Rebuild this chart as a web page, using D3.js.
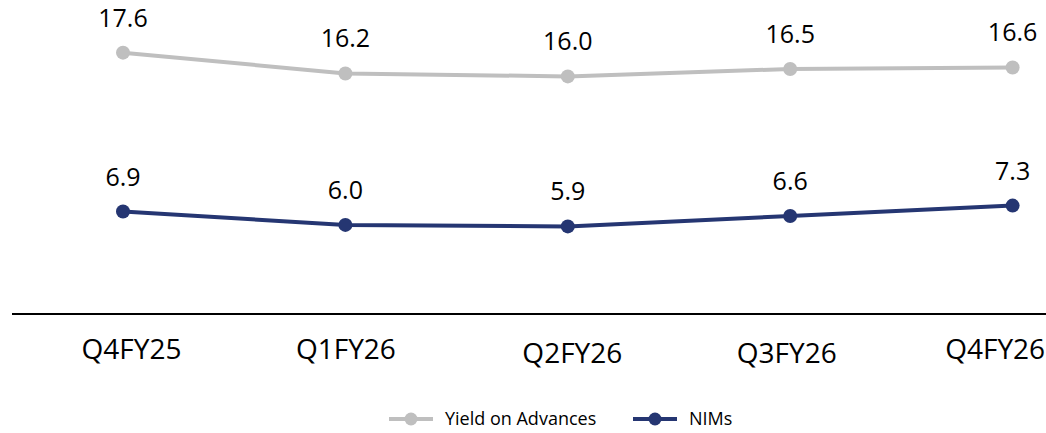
<!DOCTYPE html>
<html>
<head>
<meta charset="utf-8">
<script src="https://cdn.jsdelivr.net/npm/d3@7"></script>
<style>
  html, body { margin: 0; padding: 0; background: #fff; }
  svg { display: block; font-family: "Open Sans", "Noto Sans", sans-serif; }
</style>
</head>
<body>
<svg id="chart" width="1046" height="433"></svg>
<script>
// Quarterly yield on advances and net interest margins (%)
const quarters = ["Q4FY25", "Q1FY26", "Q2FY26", "Q3FY26", "Q4FY26"];
const yieldOnAdvances = [17.6, 16.2, 16.0, 16.5, 16.6];
const nims = [6.9, 6.0, 5.9, 6.6, 7.3];
const seriesNames = ["Yield on Advances", "NIMs"];

const series = [
  { name: seriesNames[0], values: yieldOnAdvances, color: "#bfbfbf" },
  { name: seriesNames[1], values: nims, color: "#253672" }
];

const svg = d3.select("#chart");
const width = 1046;

const x = d3.scalePoint().domain(quarters).range([123, 1012.6]);
const y = d3.scaleLinear().domain([0, 20]).range([314, 17]);

// Category axis: baseline drawn across the full plot width
svg.append("line")
  .attr("x1", 12).attr("x2", width)
  .attr("y1", y(0)).attr("y2", y(0))
  .attr("stroke", "#000").attr("stroke-width", 2);

// small horizontal nudges for the category labels; the last one is kept inside the frame
const labelShift = [8, 0, 4, -4, -18];

const xAxis = svg.append("g")
  .attr("transform", `translate(0,${y(0)})`)
  .call(d3.axisBottom(x).tickSize(0).tickPadding(20));
xAxis.select(".domain").remove();
xAxis.selectAll("text")
  .attr("font-family", "\"Open Sans\", sans-serif")
  .attr("font-size", 28)
  .attr("fill", "#000")
  .attr("dx", (d, i) => labelShift[i])
  .attr("dy", (d, i) => (i === 2 || i === 3) ? "1.02em" : "0.9em");

const line = d3.line()
  .x((d, i) => x(quarters[i]))
  .y(d => y(d));

series.forEach(s => {
  const g = svg.append("g");
  g.append("path")
    .datum(s.values)
    .attr("d", line)
    .attr("fill", "none")
    .attr("stroke", s.color)
    .attr("stroke-width", 4)
    .attr("stroke-linejoin", "round");
  g.selectAll("circle")
    .data(s.values)
    .join("circle")
    .attr("cx", (d, i) => x(quarters[i]))
    .attr("cy", d => y(d))
    .attr("r", 7)
    .attr("fill", s.color);
  g.selectAll("text")
    .data(s.values)
    .join("text")
    .attr("x", (d, i) => x(quarters[i]))
    .attr("y", d => y(d) - 26)
    .attr("text-anchor", "middle")
    .attr("font-size", 25)
    .attr("fill", "#000")
    .text(d => d3.format(".1f")(d));
});

// Legend
const legendItems = [
  { x: 389, series: series[0] },
  { x: 633, series: series[1] }
];
const legend = svg.append("g").attr("transform", "translate(0,419)");
legendItems.forEach(item => {
  const g = legend.append("g").attr("transform", `translate(${item.x},0)`);
  g.append("line")
    .attr("x1", 0).attr("x2", 44)
    .attr("stroke", item.series.color).attr("stroke-width", 4);
  g.append("circle")
    .attr("cx", 22).attr("r", 6.5)
    .attr("fill", item.series.color);
  g.append("text")
    .attr("x", 56).attr("dy", "0.36em")
    .attr("font-size", 18)
    .attr("fill", "#000")
    .text(item.series.name);
});
</script>
</body>
</html>
